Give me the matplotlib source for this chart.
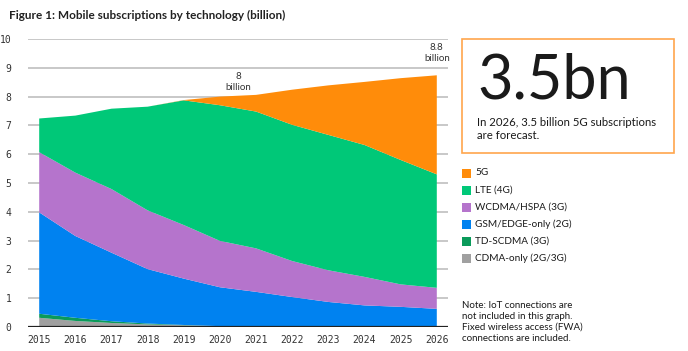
import numpy as np
import matplotlib
matplotlib.use("Agg")
import matplotlib.pyplot as plt
from matplotlib.patches import Rectangle

years = np.arange(2015, 2027)
cdma = [0.32, 0.21, 0.14, 0.09, 0.06, 0.03, 0.01, 0.0, 0.0, 0.0, 0.0, 0.0]
td_scdma = [0.14, 0.11, 0.06, 0.03, 0.01, 0.0, 0.0, 0.0, 0.0, 0.0, 0.0, 0.0]
gsm = [3.52, 2.84, 2.38, 1.89, 1.61, 1.35, 1.21, 1.04, 0.87, 0.75, 0.70, 0.63]
wcdma = [2.09, 2.20, 2.21, 2.04, 1.86, 1.61, 1.51, 1.25, 1.10, 0.99, 0.78, 0.73]
lte = [1.17, 1.98, 2.79, 3.60, 4.33, 4.71, 4.75, 4.73, 4.70, 4.58, 4.32, 3.94]
nr5g = [0.0, 0.0, 0.0, 0.0, 0.01, 0.30, 0.58, 1.22, 1.72, 2.19, 2.84, 3.44]

labels = ["5G", "LTE (4G)", "WCDMA/HSPA (3G)", "GSM/EDGE-only (2G)",
          "TD-SCDMA (3G)", "CDMA-only (2G/3G)"]
colors = ["#ff8c0a", "#00c878", "#b574cc", "#0082f0", "#0a9a5a", "#a0a0a0"]

W, H = 688, 351
fig = plt.figure(figsize=(W / 100, H / 100), dpi=100)
plt.rcParams['font.family'] = ['Lato', 'DejaVu Sans']

def fx(x):
    return x / W

def fy(y):
    return 1 - y / H

ax = fig.add_axes([fx(28), fy(327), fx(448) - fx(28), fy(39) - fy(327)])
series = [cdma, td_scdma, gsm, wcdma, lte, nr5g]
ax.stackplot(years, series, colors=colors[::-1], linewidth=0, zorder=2)
ax.set_xlim(2015 - 0.31, 2026 + 0.31)
ax.set_ylim(0, 10)
ax.set_yticks(range(0, 11))
ax.set_xticks(years)
for v in range(1, 11):
    ax.axhline(v, color="#c4c4c4", lw=1.3, zorder=1)
ax.axhline(0, color="#222222", lw=1.6, zorder=3)
for s in ax.spines.values():
    s.set_visible(False)
ax.tick_params(length=0, labelsize=7, colors="#333333")
ax.tick_params(axis="y", pad=12)
ax.tick_params(axis="x", pad=6)
for t in ax.get_xticklabels() + ax.get_yticklabels():
    t.set_fontfamily("DejaVu Sans Mono")

ax.text(2020.5, 8.15, "8\nbillion", ha="center", va="bottom", fontsize=7,
        color="#333333", linespacing=1.3)
ax.text(2026, 9.15, "8.8\nbillion", ha="center", va="bottom", fontsize=7,
        color="#333333", linespacing=1.3)

fig.text(fx(9), fy(15), "Figure 1: Mobile subscriptions by technology (billion)",
         fontsize=8.5, fontweight="bold", color="#222222", va="center")

box = Rectangle((fx(462), fy(153)), fx(674) - fx(462), fy(39) - fy(153),
                transform=fig.transFigure, fill=False, ec="#ffa64d", lw=1.2)
fig.patches.append(box)
fig.text(fx(477), fy(81), "3.5bn", fontsize=44, fontweight="normal",
         color="#1a1a1a", va="center", ha="left")
fig.text(fx(477), fy(129), "In 2026, 3.5 billion 5G subscriptions\nare forecast.",
         fontsize=8.2, color="#1a1a1a", va="center", ha="left", linespacing=1.3)

rows = [173, 190.5, 207.5, 224.5, 241.5, 258.5]
for lab, col, yy in zip(labels, colors, rows):
    fig.patches.append(Rectangle((fx(462), fy(yy + 4.5)), fx(9), 9 / H,
                                 transform=fig.transFigure, fc=col, ec="none"))
    fig.text(fx(475), fy(yy), lab, fontsize=7.2, color="#1a1a1a", va="center")

fig.text(fx(462), fy(322), "Note: IoT connections are\nnot included in this graph.\n"
         "Fixed wireless access (FWA)\nconnections are included.",
         fontsize=7, color="#1a1a1a", va="center", ha="left", linespacing=1.25)

fig.savefig("out.png", dpi=100)
